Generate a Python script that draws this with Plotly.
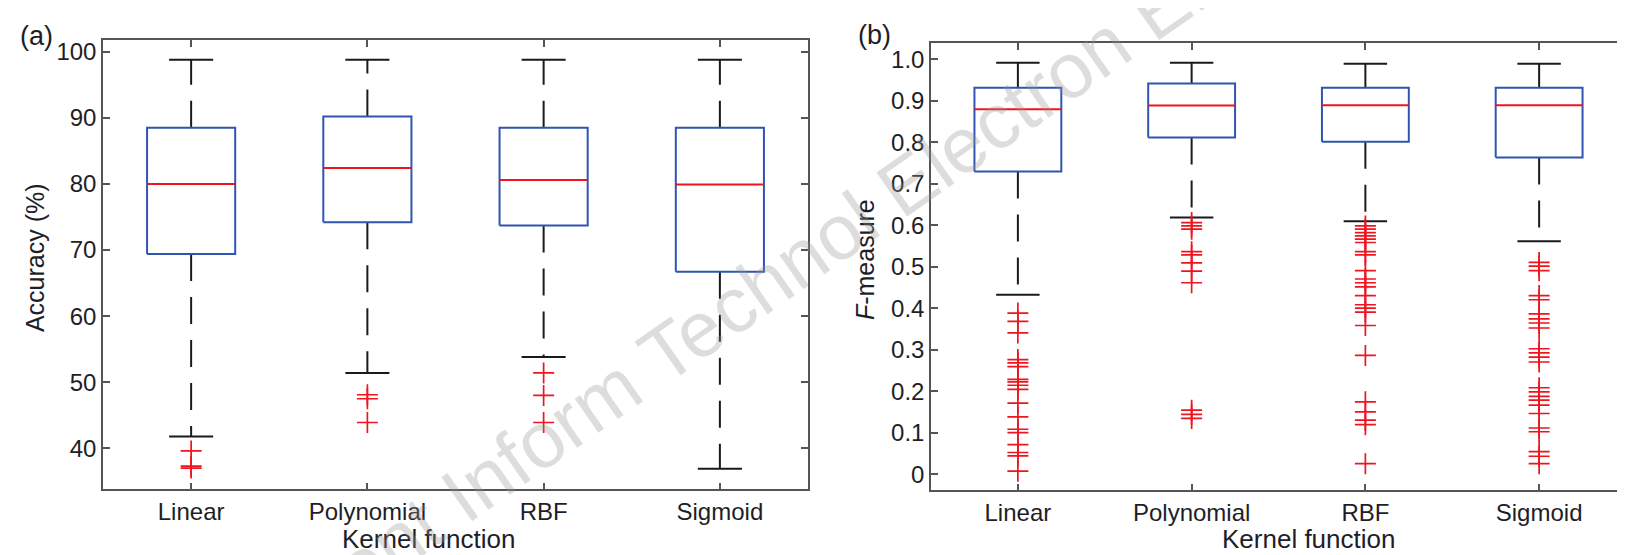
import plotly.graph_objects as go

categories = ["Linear", "Polynomial", "RBF", "Sigmoid"]

# Panel (a): Accuracy (%)
acc_lower = [41.8, 51.4, 53.8, 36.9]
acc_q1 = [69.4, 74.2, 73.7, 66.7]
acc_median = [80.0, 82.4, 80.6, 79.9]
acc_q3 = [88.5, 90.2, 88.5, 88.5]
acc_upper = [98.8, 98.8, 98.8, 98.8]
acc_outliers = [
    [39.6, 37.3, 37.0],
    [48.1, 47.5, 43.9],
    [51.4, 48.0, 43.9],
    [],
]

# Panel (b): F-measure
f_lower = [0.433, 0.619, 0.610, 0.562]
f_q1 = [0.730, 0.812, 0.802, 0.764]
f_median = [0.880, 0.889, 0.890, 0.890]
f_q3 = [0.932, 0.942, 0.932, 0.932]
f_upper = [0.992, 0.992, 0.990, 0.990]
f_outliers = [
    [0.389, 0.369, 0.341, 0.277, 0.269, 0.260, 0.229, 0.223, 0.215, 0.205,
     0.172, 0.139, 0.109, 0.101, 0.072, 0.053, 0.045, 0.008],
    [0.607, 0.599, 0.591, 0.537, 0.529, 0.510, 0.490, 0.462,
     0.155, 0.145, 0.135],
    [0.599, 0.591, 0.583, 0.575, 0.567, 0.559, 0.537, 0.529, 0.491, 0.471,
     0.462, 0.452, 0.431, 0.409, 0.401, 0.391, 0.359, 0.287, 0.175, 0.151,
     0.131, 0.120, 0.026],
    [0.511, 0.502, 0.491, 0.431, 0.421, 0.387, 0.375, 0.365, 0.353, 0.303,
     0.293, 0.283, 0.271, 0.209, 0.199, 0.188, 0.179, 0.167, 0.147, 0.112,
     0.103, 0.055, 0.044, 0.026],
]

BOX_HALF = 0.25
CAP_HALF = 0.125
BLUE = "#2f55b0"
RED = "#f0141e"
BLACK = "#1a1a1a"
AXIS = "#555555"
FONT = "Liberation Sans, Arial, sans-serif"
TXT = "#1e1e28"

fig = go.Figure()


def add_panel(xa, ya, lower, q1, med, q3, upper, outliers):
    for i, cat in enumerate(categories):
        c = i + 1
        # whiskers (dashed)
        fig.add_trace(go.Scatter(
            x=[c, c, None, c, c], y=[q3[i], upper[i], None, q1[i], lower[i]],
            mode="lines", line=dict(color=BLACK, width=2, dash="27px,16px"),
            xaxis=xa, yaxis=ya, hoverinfo="skip", showlegend=False))
        # caps
        fig.add_trace(go.Scatter(
            x=[c - CAP_HALF, c + CAP_HALF, None, c - CAP_HALF, c + CAP_HALF],
            y=[upper[i], upper[i], None, lower[i], lower[i]],
            mode="lines", line=dict(color=BLACK, width=2),
            xaxis=xa, yaxis=ya, hoverinfo="skip", showlegend=False))
        # box
        fig.add_trace(go.Scatter(
            x=[c - BOX_HALF, c + BOX_HALF, c + BOX_HALF, c - BOX_HALF, c - BOX_HALF],
            y=[q1[i], q1[i], q3[i], q3[i], q1[i]],
            mode="lines", line=dict(color=BLUE, width=2),
            xaxis=xa, yaxis=ya, name=cat, showlegend=False))
        # median
        fig.add_trace(go.Scatter(
            x=[c - BOX_HALF, c + BOX_HALF], y=[med[i], med[i]],
            mode="lines", line=dict(color=RED, width=2),
            xaxis=xa, yaxis=ya, hoverinfo="skip", showlegend=False))
        # outliers
        if outliers[i]:
            fig.add_trace(go.Scatter(
                x=[c] * len(outliers[i]), y=outliers[i], mode="markers",
                marker=dict(symbol="cross-thin", size=15,
                            line=dict(color=RED, width=1.7)),
                xaxis=xa, yaxis=ya, showlegend=False))


add_panel("x", "y", acc_lower, acc_q1, acc_median, acc_q3, acc_upper, acc_outliers)
add_panel("x2", "y2", f_lower, f_q1, f_median, f_q3, f_upper, f_outliers)

axis_common = dict(
    showgrid=False, zeroline=False, showline=True, linecolor=AXIS, linewidth=1.5,
    mirror="ticks", ticks="inside", ticklen=7, tickwidth=1.5, tickcolor=AXIS,
    tickfont=dict(family=FONT, size=24, color=TXT),
)

fig.update_layout(
    width=1625, height=555,
    margin=dict(l=0, r=0, t=0, b=0),
    paper_bgcolor="white", plot_bgcolor="white",
    showlegend=False,
    xaxis=dict(domain=[95 / 1625, 800 / 1625], range=[0.5, 4.5],
               tickvals=[1, 2, 3, 4], ticktext=categories, anchor="y",
               **axis_common),
    yaxis=dict(domain=[1 - 481 / 555, 1 - 30 / 555], range=[33.8, 101.8],
               tickvals=[40, 50, 60, 70, 80, 90, 100], anchor="x",
               **axis_common),
    xaxis2=dict(domain=[923 / 1625, 1618 / 1625], range=[0.5, 4.5],
                tickvals=[1, 2, 3, 4], ticktext=categories, anchor="y2",
                **axis_common),
    yaxis2=dict(domain=[1 - 482 / 555, 1 - 33 / 555], range=[-0.038, 1.040],
                tickvals=[0, 0.1, 0.2, 0.3, 0.4, 0.5, 0.6, 0.7, 0.8, 0.9, 1.0],
                ticktext=["0", "0.1", "0.2", "0.3", "0.4", "0.5", "0.6",
                          "0.7", "0.8", "0.9", "1.0"],
                anchor="x2", **axis_common),
)


def txt(text, x, y, size=25, angle=0, color=TXT):
    fig.add_annotation(text=text, x=x / 1625, y=1 - y / 555, xref="paper",
                       yref="paper", showarrow=False, textangle=angle,
                       xanchor="center", yanchor="middle",
                       font=dict(family=FONT, size=size, color=color))


txt("(a)", 29, 26, size=27)
txt("(b)", 866, 25, size=27)
txt("Accuracy (%)", 27, 249, angle=-90)
txt("<i>F</i>-measure", 857, 250, angle=-90)
txt("Kernel function", 420, 531, size=26)
txt("Kernel function", 1300, 531, size=26)

# journal watermark (partly outside the frame, as in the source figure)
fig.add_annotation(text="Front Inform Technol Electron Eng", x=760 / 1625,
                   y=1 - 272 / 555, xref="paper", yref="paper",
                   showarrow=False, textangle=-35, xanchor="center",
                   yanchor="middle",
                   font=dict(family=FONT, size=78, color="rgba(150,150,150,0.32)"))

fig.write_html("out.html")
